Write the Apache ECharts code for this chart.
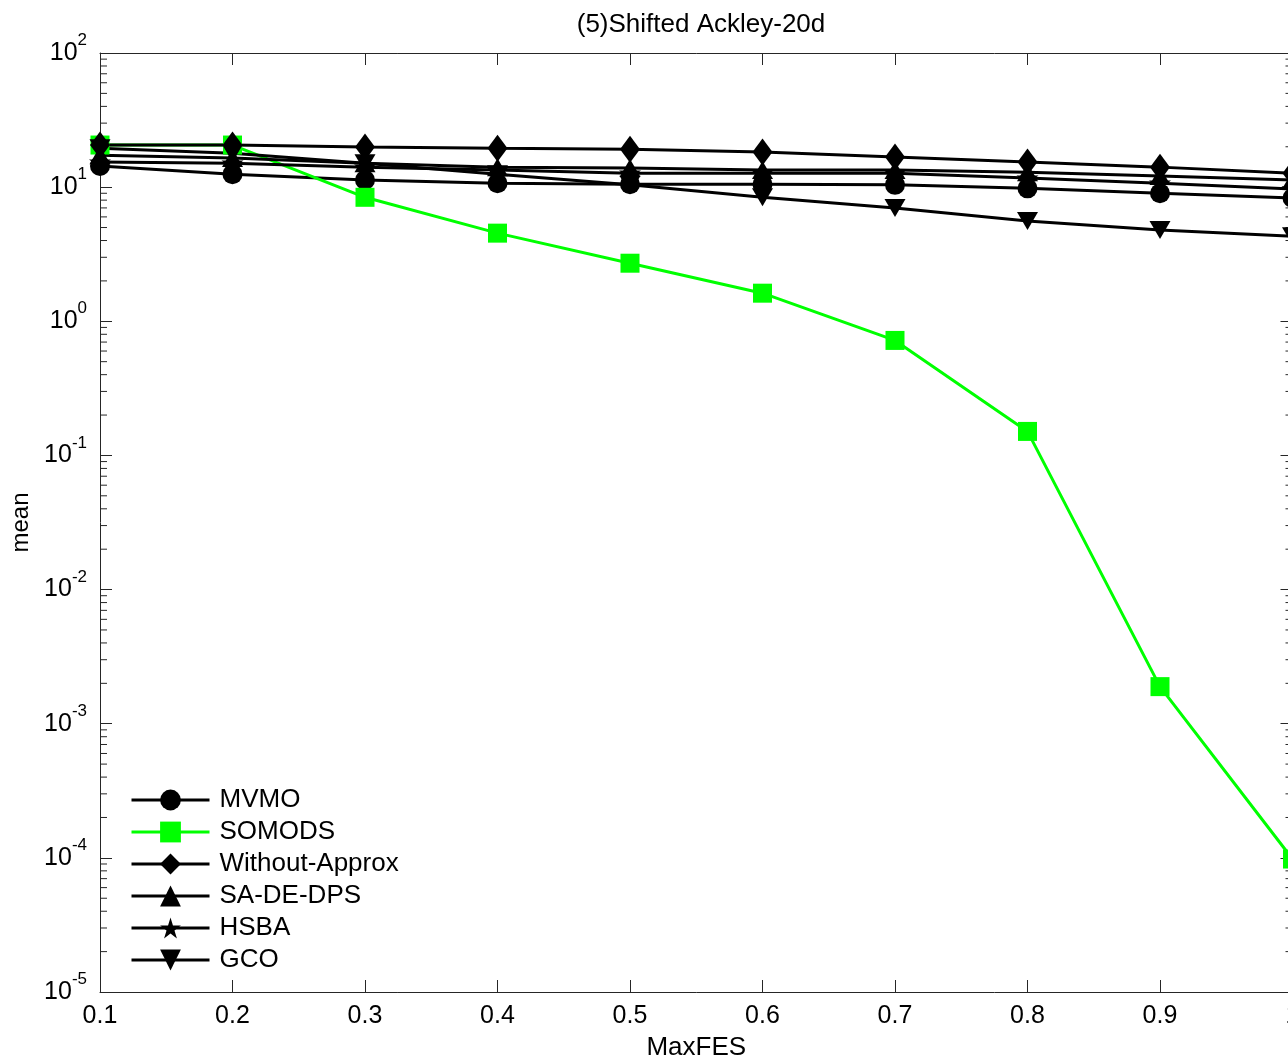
<!DOCTYPE html>
<html>
<head>
<meta charset="utf-8">
<title>(5)Shifted Ackley-20d</title>
<script src="https://cdn.jsdelivr.net/npm/echarts@6/dist/echarts.min.js"></script>
<style>
  html, body { margin: 0; padding: 0; background: #fff; overflow: hidden; }
  #chart { width: 1300px; height: 1062px; }
</style>
</head>
<body>
<div id="chart"></div>
<script>
// Fraction of the evaluation budget (MaxFES) at which the mean error was recorded
const maxFES = [0.1, 0.2, 0.3, 0.4, 0.5, 0.6, 0.7, 0.8, 0.9, 1.0];

// Mean best error per algorithm
const mvmo          = [14.4, 12.5, 11.3, 10.7, 10.5, 10.5, 10.4, 9.8, 9.0, 8.3];
const somods        = [20.6, 20.6, 8.4, 4.54, 2.71, 1.62, 0.72, 0.151, 0.00189, 0.000098];
const withoutApprox = [20.6, 20.6, 19.9, 19.5, 19.2, 18.3, 16.8, 15.4, 14.1, 12.7];
const saDeDps       = [17.3, 16.5, 15.1, 14.1, 13.9, 13.4, 13.4, 12.9, 12.1, 11.3];
const hsba          = [15.4, 15.1, 14.1, 13.4, 12.7, 12.7, 12.7, 11.7, 10.7, 9.7];
const gco           = [19.5, 17.9, 15.1, 12.5, 10.4, 8.4, 7.0, 5.6, 4.8, 4.3];

// Log axis range and minor tick multipliers per decade
const yMin = 1e-5;
const yMax = 100;
const minorDecades = [-5, -4, -3, -2, -1, 0, 1];
const minorMultipliers = [2, 3, 4, 5, 6, 7, 8, 9];

const FONT = '"Liberation Sans", Arial, Helvetica, sans-serif';
const AXIS_COLOR = '#262626';
const GREEN = '#00ff00';

const STAR = 'path://M50,0 L61.2,34.5 L97.6,34.5 L68.2,55.9 L79.4,90.5 L50,69.1 L20.6,90.5 L31.8,55.9 L2.4,34.5 L38.8,34.5 Z';
const DOWN_TRIANGLE = 'path://M0,0 L20,0 L10,18 Z';

function pairs(values) {
  return maxFES.map((x, i) => [x, values[i]]);
}

const minorTicks = [];
minorDecades.forEach(d => minorMultipliers.forEach(m => minorTicks.push([0.1, m * Math.pow(10, d)])));

function lineSeries(name, values, symbol, size, color) {
  return {
    name: name,
    type: 'line',
    data: pairs(values),
    symbol: symbol,
    symbolSize: size,
    showAllSymbol: true,
    clip: true,
    lineStyle: { color: color, width: 3 },
    itemStyle: { color: color, borderWidth: 0 },
    emphasis: { disabled: true },
    animation: false
  };
}

const chart = echarts.init(document.getElementById('chart'), null, { renderer: 'canvas' });

const option = {
  backgroundColor: '#ffffff',
  animation: false,
  title: {
    text: '(5)Shifted Ackley-20d',
    left: 696,
    top: 7,
    textAlign: 'center',
    textStyle: { fontFamily: FONT, fontSize: 26, fontWeight: 'normal', color: '#000' }
  },
  grid: {
    left: 100,
    right: 7.5,
    top: 53,
    bottom: 70,
    containLabel: false,
    outerBoundsMode: 'none',
    show: false
  },
  legend: {
    orient: 'vertical',
    left: 130,
    top: 787,
    itemWidth: 78,
    itemHeight: 26,
    itemGap: 6,
    padding: 0,
    selectedMode: false,
    lineStyle: { width: 3 },
    data: ['MVMO', 'SOMODS', 'Without-Approx', 'SA-DE-DPS', 'HSBA', 'GCO'],
    textStyle: {
      fontFamily: FONT, fontSize: 26, color: '#000', lineHeight: 26,
      padding: [0, 0, 0, 5]
    }
  },
  xAxis: [
    {
      type: 'value',
      min: 0.1,
      max: 1.0,
      interval: 0.1,
      name: 'MaxFES',
      nameLocation: 'middle',
      nameGap: 43,
      nameTextStyle: { fontFamily: FONT, fontSize: 26, color: '#000' },
      axisLine: { show: true, onZero: false, lineStyle: { color: AXIS_COLOR, width: 1 } },
      axisTick: { show: true, inside: true, length: 12, lineStyle: { color: AXIS_COLOR, width: 1 } },
      axisLabel: {
        margin: 12,
        fontFamily: FONT, fontSize: 25, color: '#000',
        formatter: v => (Math.abs(v - 1) < 1e-9 ? '1' : v.toFixed(1))
      },
      splitLine: { show: false }
    },
    {
      type: 'value',
      position: 'top',
      min: 0.1,
      max: 1.0,
      interval: 0.1,
      axisLine: { show: true, onZero: false, lineStyle: { color: AXIS_COLOR, width: 1 } },
      axisTick: { show: true, inside: true, length: 12, lineStyle: { color: AXIS_COLOR, width: 1 } },
      axisLabel: { show: false },
      splitLine: { show: false }
    }
  ],
  yAxis: [
    {
      type: 'log',
      logBase: 10,
      min: yMin,
      max: yMax,
      splitNumber: 7,
      name: 'mean',
      nameLocation: 'middle',
      nameGap: 64,
      nameTextStyle: { fontFamily: FONT, fontSize: 24, color: '#000' },
      axisLine: { show: true, onZero: false, lineStyle: { color: AXIS_COLOR, width: 1 } },
      axisTick: { show: true, inside: true, length: 12, lineStyle: { color: AXIS_COLOR, width: 1 } },
      axisLabel: {
        margin: 13,
        formatter: v => '{b|10}{s|' + Math.round(Math.log10(v)) + '}',
        rich: {
          b: { fontFamily: FONT, fontSize: 25, color: '#000', lineHeight: 42 },
          s: { fontFamily: FONT, fontSize: 17, color: '#000', lineHeight: 17, verticalAlign: 'top' }
        }
      },
      splitLine: { show: false }
    },
    {
      type: 'log',
      logBase: 10,
      min: yMin,
      max: yMax,
      splitNumber: 7,
      position: 'right',
      axisLine: { show: true, onZero: false, lineStyle: { color: AXIS_COLOR, width: 1 } },
      axisTick: { show: true, inside: true, length: 12, lineStyle: { color: AXIS_COLOR, width: 1 } },
      axisLabel: { show: false },
      splitLine: { show: false }
    }
  ],
  series: [
    // log-spaced minor ticks on the left and right frame edges
    {
      type: 'custom',
      name: 'minor-ticks',
      silent: true,
      clip: false,
      data: minorTicks,
      renderItem: function (params, api) {
        const v = api.value(1);
        const left = api.coord([0.1, v]);
        const right = api.coord([1.0, v]);
        const style = { stroke: AXIS_COLOR, lineWidth: 1 };
        return {
          type: 'group',
          children: [
            { type: 'line', shape: { x1: left[0], y1: left[1], x2: left[0] + 7, y2: left[1] }, style: style },
            { type: 'line', shape: { x1: right[0], y1: right[1], x2: right[0] - 7, y2: right[1] }, style: style }
          ]
        };
      },
      animation: false
    },
    lineSeries('MVMO', mvmo, 'circle', 20, '#000'),
    lineSeries('SOMODS', somods, 'rect', 19, GREEN),
    lineSeries('Without-Approx', withoutApprox, 'diamond', [20, 27], '#000'),
    lineSeries('SA-DE-DPS', saDeDps, 'triangle', [21, 18], '#000'),
    lineSeries('HSBA', hsba, STAR, 22, '#000'),
    lineSeries('GCO', gco, DOWN_TRIANGLE, [21, 18], '#000')
  ]
};

chart.setOption(option);
</script>
</body>
</html>
